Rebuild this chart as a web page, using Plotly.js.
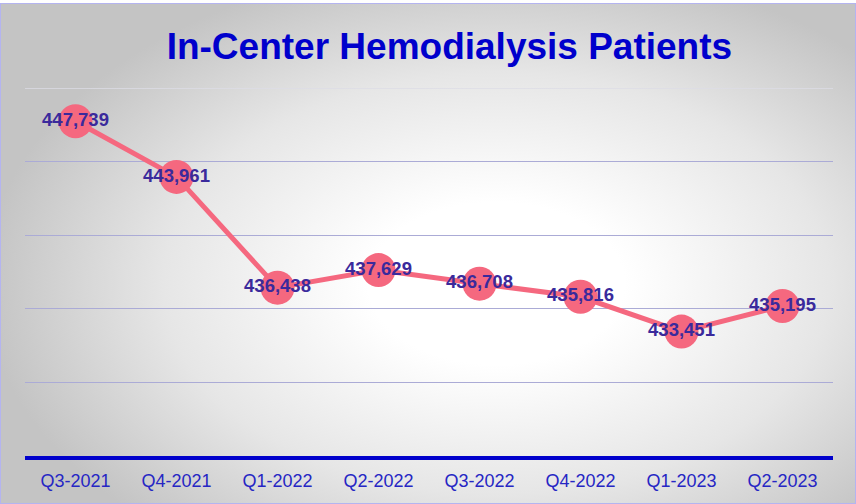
<!DOCTYPE html>
<html>
<head>
<meta charset="utf-8">
<script src="https://cdn.plot.ly/plotly-3.0.1.min.js"></script>
<style>
html, body { margin: 0; padding: 0; background: #ffffff; }
#frame {
  position: absolute; left: 0; top: 3px; width: 854px; height: 499px;
  border: 1px solid #b4b4f0;
  background: radial-gradient(ellipse 60% 65% at 58% 56%, #ffffff 25%, #e6e6e6 65%, #c4c4c4 100%);
}
#chart { position: absolute; left: 0; top: 0; width: 856px; height: 504px; }
</style>
</head>
<body>
<div id="frame"></div>
<div id="chart"></div>
<script>
const quarters = ["Q3-2021", "Q4-2021", "Q1-2022", "Q2-2022", "Q3-2022", "Q4-2022", "Q1-2023", "Q2-2023"];
const patients = [447739, 443961, 436438, 437629, 436708, 435816, 433451, 435195];
const chartTitle = "In-Center Hemodialysis Patients";
const yMin = 425000, yMax = 450000, yStep = 5000;

const trace = {
  x: quarters,
  y: patients,
  type: "scatter",
  mode: "lines+markers+text",
  line: { color: "#f5687f", width: 5 },
  marker: { color: "#f5687f", size: 34 },
  texttemplate: "%{y:,}",
  textposition: "middle center",
  textfont: { family: "Liberation Sans, Arial, sans-serif", size: 18.5, color: "#3a2a9c", weight: "bold" },
  hoverinfo: "x+y"
};

const layout = {
  width: 856, height: 504,
  paper_bgcolor: "rgba(0,0,0,0)",
  plot_bgcolor: "rgba(0,0,0,0)",
  margin: { l: 25, r: 23, t: 88, b: 48 },
  showlegend: false,
  title: {
    text: "<b>" + chartTitle + "</b>",
    font: { family: "Liberation Sans, Arial, sans-serif", size: 37, color: "#0000cc" },
    x: 0.525, xanchor: "center",
    y: 1 - 46 / 504, yanchor: "middle", yref: "container"
  },
  xaxis: {
    type: "category",
    range: [-0.5, 7.5],
    showline: true, linecolor: "#0000cc", linewidth: 4,
    showgrid: false, zeroline: false, ticks: "",
    ticklabelstandoff: 5,
    tickfont: { family: "Liberation Sans, Arial, sans-serif", size: 18, color: "#2626c4" }
  },
  yaxis: {
    range: [yMin, yMax],
    dtick: yStep, tick0: yMin,
    showticklabels: false, ticks: "",
    showgrid: true, gridcolor: "#ababd6", gridwidth: 1,
    zeroline: false, showline: false
  },
  shapes: [{
    type: "line", xref: "paper", yref: "y",
    x0: 0, x1: 1, y0: yMax, y1: yMax,
    line: { color: "#dcdce6", width: 1.5 },
    layer: "below"
  }]
};

Plotly.newPlot("chart", [trace], layout, { displayModeBar: false, staticPlot: true });
</script>
</body>
</html>
